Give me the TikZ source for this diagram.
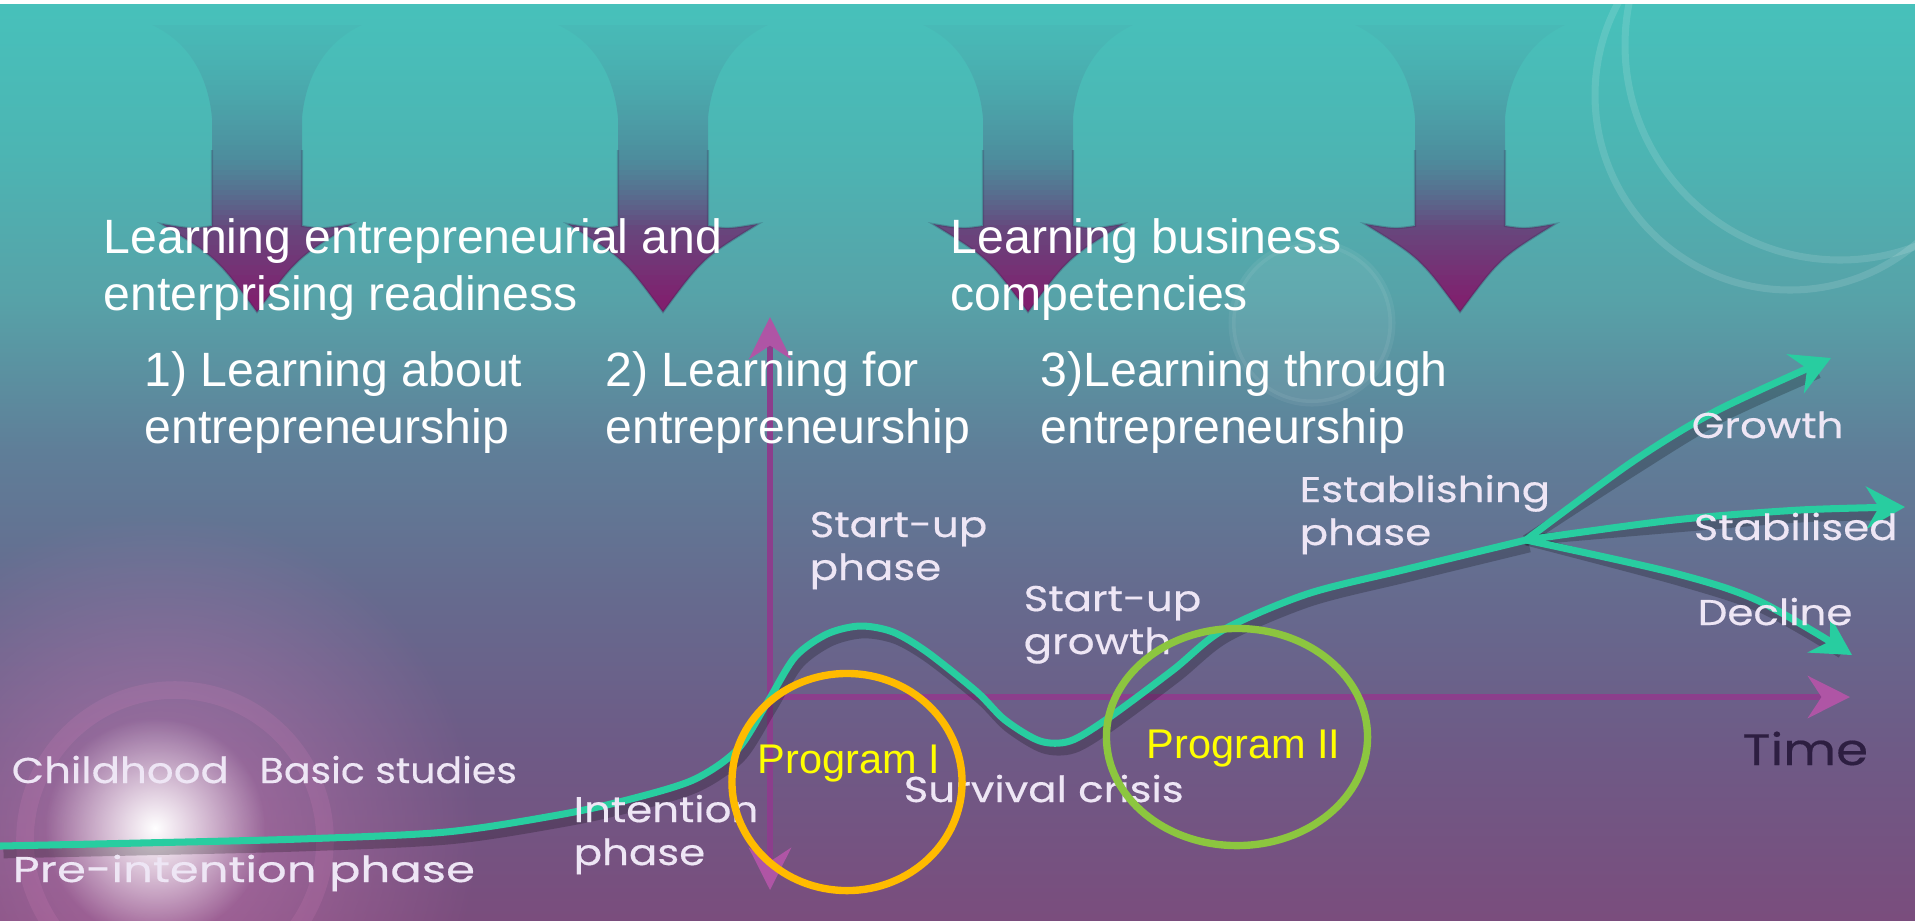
\documentclass[tikz,border=0pt]{standalone}
\usepackage{fontspec}
\setmainfont{Liberation Sans}
\newfontfamily\gothfont[FakeStretch=1.17,FakeBold=0.4]{Poppins}
\usetikzlibrary{arrows.meta, shapes.geometric, fadings}

% background and drawing colours
\definecolor{bgtop}{RGB}{71,193,187}
\definecolor{bgupper}{RGB}{76,181,179}
\definecolor{bgmid}{RGB}{87,162,168}
\definecolor{bgslate}{RGB}{95,126,152}
\definecolor{bglow}{RGB}{102,106,142}
\definecolor{bgplum}{RGB}{110,90,134}
\definecolor{bgbot}{RGB}{122,77,125}
\definecolor{arrowmid}{RGB}{78,110,140}
\definecolor{arrowbot}{RGB}{128,32,110}
\definecolor{arrowedge}{RGB}{50,40,80}
\definecolor{curvegreen}{RGB}{40,205,160}
\definecolor{axispurple}{RGB}{140,62,140}
\definecolor{axispink}{RGB}{175,85,165}
\definecolor{phasewhite}{RGB}{238,230,245}
\definecolor{timedark}{RGB}{45,30,65}
\definecolor{progorange}{RGB}{255,187,0}
\definecolor{proggreen}{RGB}{140,198,63}
\definecolor{progyellow}{RGB}{255,255,0}
\definecolor{flarepink}{RGB}{225,135,195}

\newcommand{\hdfont}{\fontsize{13.7}{16}\selectfont}
\newcommand{\phfont}{\gothfont\fontsize{10.2}{12.2}\selectfont}
\newcommand{\pgmfont}{\fontsize{11.8}{14}\selectfont}
\newcommand{\tmfont}{\gothfont\fontsize{12.5}{14}\selectfont}

% outline of one learning arrow, centred on x = #1
\newcommand{\arrowoutline}[1]{({#1-105},25) .. controls ({#1-62},45) and ({#1-48},85) .. ({#1-45},118)
  -- ({#1-45},226) .. controls ({#1-65},229) .. ({#1-95},224)
  .. controls ({#1-40},258) .. (#1,312)
  .. controls ({#1+40},258) .. ({#1+95},224)
  .. controls ({#1+65},229) .. ({#1+45},226)
  -- ({#1+45},118) .. controls ({#1+48},85) and ({#1+62},45) .. ({#1+105},25) -- cycle}

\pgfdeclareverticalshading{skyshade}{100bp}{color(0bp)=(bgbot); color(25bp)=(bgbot);
  color(34.2bp)=(bgplum); color(42.4bp)=(bglow); color(50.5bp)=(bgslate);
  color(58.7bp)=(bgmid); color(66.8bp)=(bgupper); color(75bp)=(bgtop); color(100bp)=(bgtop)}
\tikzfading[name=glowfade, inner color=transparent!0, outer color=transparent!100]

\tikzset{
  headtext/.style={font=\hdfont,text=white,anchor=base west,align=left,inner sep=0pt},
  phasetext/.style={font=\phfont,text=phasewhite,anchor=base west,align=left,inner sep=0pt},
  timetext/.style={phasetext,font=\tmfont,text=timedark},
  progtext/.style={font=\pgmfont,text=progyellow,anchor=base west,inner sep=0pt},
  lifecurve/.style={draw=curvegreen,line width=2pt,line cap=round},
  curveshadow/.style={draw=black,draw opacity=0.22,line width=3pt,xshift=1pt,yshift=-2pt},
  branch/.style={lifecurve,-{Stealth[length=11pt,width=12pt]}},
  axisline/.style={draw=axispurple,line width=1.6pt,>={Stealth[length=12pt,width=12pt,color=axispink]}},
  progring/.style={ellipse,draw,line width=2.1pt,inner sep=0pt},
  ringwhite/.style={draw=white,draw opacity=0.12,line width=2pt}
}

\begin{document}
\begin{tikzpicture}[x=0.01cm,y=-0.01cm]
  \useasboundingbox (0,0) rectangle (1915,920);
  \clip (0,0) rectangle (1915,920);
  \shade[shading=skyshade] (0,0) rectangle (1915,920);

  % lens flare and bubbles
  \fill[flarepink,path fading=glowfade,fill opacity=0.5] (160,830) circle (320);
  \draw[flarepink,draw opacity=0.15,line width=5pt] (175,840) circle (150);
  \fill[white,path fading=glowfade] (155,828) circle (110);
  \fill[white,fill opacity=0.07] (1312,323) circle (80);
  \draw[ringwhite,draw opacity=0.06] (1312,323) circle (80);
  \draw[ringwhite] (1790,95) circle (195);
  \draw[ringwhite] (1840,45) circle (215);

  % four learning arrows, faded in from the top in thin bands
  \foreach \cx in {257,663,1028,1460}{
    \begin{scope}
      \clip \arrowoutline{\cx};
      \foreach \y in {20,25,...,315}{
        \pgfmathsetmacro\t{max(0,(\y-25)/287)}
        \pgfmathsetmacro\op{min(1,0.06+1.6*\t*sqrt(\t))}
        \pgfmathtruncatemacro\p{100*max(0,min(1,(\t-0.45)/0.5))}
        \fill[arrowbot!\p!arrowmid,fill opacity=\op] ({\cx-110},\y) rectangle ({\cx+110},{\y+5});
      }
    \end{scope}
    \draw[arrowedge,draw opacity=0.25,line width=0.6pt] ({\cx-45},150) -- ({\cx-45},226)
      .. controls ({\cx-65},229) .. ({\cx-95},224) .. controls ({\cx-40},258) .. (\cx,312)
      .. controls ({\cx+40},258) .. ({\cx+95},224) .. controls ({\cx+65},229) .. ({\cx+45},226)
      -- ({\cx+45},150);
  }

  % axes
  \coordinate (origin) at (770,697);
  \coordinate (ytop) at (770,317);
  \coordinate (ybot) at (770,890);
  \coordinate (tend) at (1850,697);
  \draw[axisline,<->] (ybot) -- (ytop);
  \draw[axisline,->] (origin) -- (tend);

  % life cycle curve with branches
  \coordinate (fork) at (1526,540);
  \foreach \sty in {curveshadow,lifecurve}{
    \draw[\sty] plot[smooth,tension=0.5] coordinates {(0,846) (140,843) (300,839) (446,832)
      (558,815) (627,800) (693,780) (737,750) (767,703) (795,657) (827,634) (860,626)
      (893,632) (927,652) (977,692) (1005,720) (1040,741) (1070,741) (1107,719) (1173,670)
      (1223,630) (1307,594) (1407,569) (1526,540)};
  }
  \draw[curveshadow] plot[smooth] coordinates {(fork) (1632,462) (1716,411) (1815,366)};
  \draw[curveshadow] plot[smooth] coordinates {(fork) (1674,520) (1800,510) (1890,508)};
  \draw[curveshadow] plot[smooth] coordinates {(fork) (1674,573) (1759,601) (1838,646)};
  \draw[branch] plot[smooth] coordinates {(fork) (1632,462) (1716,411) (1831,358)};
  \draw[branch] plot[smooth] coordinates {(fork) (1674,520) (1800,510) (1905,507)};
  \draw[branch] plot[smooth] coordinates {(fork) (1674,573) (1759,601) (1852,655)};

  % phase labels (two-line nodes sit on their last baseline)
  \node[phasetext] (childhood) at (11,783) {Childhood};
  \node[phasetext] (basic) at (259,783) {\scalebox{0.94}[1]{Basic studies}};
  \node[phasetext] (preint) at (12,882) {\scalebox{1.11}[1]{Pre-intention phase}};
  \node[phasetext] (intent) at (573,865) {Intention\\phase};
  \node[phasetext] (startup) at (809,580) {Start-up\\phase};
  \node[phasetext] (sugrowth) at (1023,654) {Start-up\\growth};
  \node[phasetext] (survival) at (903,802) {Survival crisis};
  \node[phasetext] (establish) at (1299,545) {Establishing\\phase};
  \node[phasetext] (growth) at (1691,438) {Growth};
  \node[phasetext] (stable) at (1693,540) {Stabilised};
  \node[phasetext] (decline) at (1697,625) {Decline};
  \node[timetext] (time) at (1742,765) {Time};

  % programme rings
  \node[progring,draw=progorange,minimum width=2.30cm,minimum height=2.17cm] (progI) at (847,782) {};
  \node[progring,draw=proggreen,minimum width=2.61cm,minimum height=2.17cm] (progII) at (1237,737) {};
  \node[progtext] (progIlabel) at (757,773) {Program I};
  \node[progtext] (progIIlabel) at (1146,758) {Program II};

  % learning headings
  \node[headtext] (readiness) at (103,310) {Learning entrepreneurial and\\enterprising readiness};
  \node[headtext] (business) at (950,310) {Learning business\\competencies};
  \node[headtext] (about) at (144,443) {1) Learning about\\entrepreneurship};
  \node[headtext] (for) at (605,443) {2) Learning for\\entrepreneurship};
  \node[headtext] (through) at (1040,443) {3)Learning through\\entrepreneurship};

  \fill[white] (0,0) rectangle (1915,4);
\end{tikzpicture}
\end{document}
